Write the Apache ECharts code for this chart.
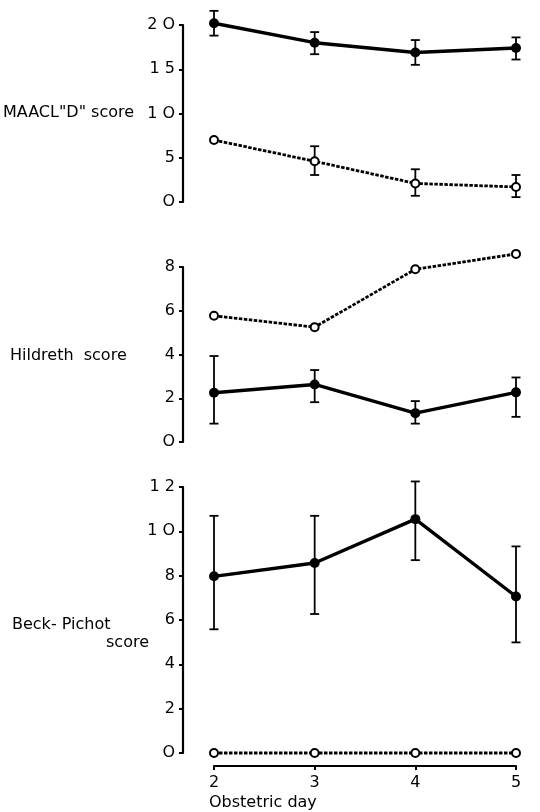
<!DOCTYPE html>
<html><head><meta charset="utf-8">
<script src="https://cdn.jsdelivr.net/npm/echarts@6/dist/echarts.min.js"></script>
<style>html,body{margin:0;padding:0;background:#fff}#c{width:540px;height:812px}</style>
</head><body><div id="c"></div>
<script>
var days = [2, 3, 4, 5];
// MAACL "D"
var maaclSolid = [20.2, 18.0, 16.9, 17.4];
var maaclSolidHi = [21.6, 19.2, 18.3, 18.6];
var maaclSolidLo = [18.8, 16.7, 15.5, 16.1];
var maaclOpen = [7.0, 4.6, 2.1, 1.7];
var maaclOpenHi = [null, 6.3, 3.7, 3.05];
var maaclOpenLo = [null, 3.05, 0.7, 0.55];
// Hildreth
var hildSolid = [2.25, 2.63, 1.32, 2.27];
var hildSolidHi = [3.93, 3.29, 1.87, 2.95];
var hildSolidLo = [0.84, 1.82, 0.84, 1.15];
var hildOpen = [5.77, 5.25, 7.9, 8.6];
// Beck-Pichot
var beckSolid = [7.97, 8.57, 10.55, 7.06];
var beckSolidHi = [10.7, 10.7, 12.25, 9.32];
var beckSolidLo = [5.58, 6.27, 8.7, 4.99];
var beckOpen = [0, 0, 0, 0];
var yTicks1 = [0, 5, 10, 15, 20];
var yTicks2 = [0, 2, 4, 6, 8];
var yTicks3 = [0, 2, 4, 6, 8, 10, 12];

var FONT = '"DejaVu Sans"';
var chart = echarts.init(document.getElementById('c'));
function pairs(v){ return days.map(function(d,i){ return [d, v[i]]; }); }
function errData(hi, lo){
  var out = [];
  days.forEach(function(d,i){ if (hi[i] != null) out.push([d, lo[i], hi[i]]); });
  return out;
}
function errSeries(idx, hi, lo){
  return {
    type: 'custom', xAxisIndex: idx, yAxisIndex: idx, clip: false, z: 3,
    data: errData(hi, lo),
    renderItem: function(params, api){
      var x = api.value(0);
      var p1 = api.coord([x, api.value(1)]);
      var p2 = api.coord([x, api.value(2)]);
      var w = 4.5;
      var st = {stroke: '#000', lineWidth: 1.8};
      return {type: 'group', children: [
        {type: 'line', shape: {x1: p1[0], y1: p1[1], x2: p2[0], y2: p2[1]}, style: st},
        {type: 'line', shape: {x1: p1[0]-w, y1: p1[1], x2: p1[0]+w, y2: p1[1]}, style: st},
        {type: 'line', shape: {x1: p2[0]-w, y1: p2[1], x2: p2[0]+w, y2: p2[1]}, style: st}
      ]};
    }
  };
}
function solidLine(idx, v){
  return {type: 'line', xAxisIndex: idx, yAxisIndex: idx, data: pairs(v), clip: false, z: 4,
    symbol: 'circle', symbolSize: 10, lineStyle: {color: '#000', width: 3.4},
    itemStyle: {color: '#000', borderColor: '#000', borderWidth: 0}, animation: false};
}
function openLine(idx, v){
  return {type: 'line', xAxisIndex: idx, yAxisIndex: idx, data: pairs(v), clip: false, z: 4,
    symbol: 'circle', symbolSize: 8, lineStyle: {color: '#000', width: 2.8, type: [3.5, 1.5]},
    itemStyle: {color: '#fff', borderColor: '#000', borderWidth: 2}, animation: false};
}
var grids = [
  {left: 214, right: 24, top: 25, height: 177},
  {left: 214, right: 24, top: 267, height: 175},
  {left: 214, right: 24, top: 487, height: 266}
];
function xAx(idx, show){
  return {type: 'value', gridIndex: idx, min: 2, max: 5, interval: 1, offset: 13,
    axisLine: {show: show, onZero: false, lineStyle: {color: '#000', width: 2.2}},
    axisTick: {show: show, length: 4, lineStyle: {color: '#000', width: 2}},
    axisLabel: {show: show, color: '#000', fontFamily: FONT, fontSize: 16, margin: 9},
    splitLine: {show: false}};
}
function yAx(idx, max, interval, ticks){
  return {type: 'value', gridIndex: idx, min: 0, max: max, interval: interval, offset: 31,
    axisLine: {show: true, onZero: false, lineStyle: {color: '#000', width: 2.2}},
    axisTick: {show: true, length: 4, lineStyle: {color: '#000', width: 2}},
    axisLabel: {color: '#000', fontFamily: FONT, fontSize: 16, margin: 8,
      formatter: function(v){
        if (ticks.indexOf(v) < 0) return '';
        return String(v).replace(/0/g, 'O').split('').join(' ');
      }},
    splitLine: {show: false}};
}
var txt = function(l, t, s){ return {type: 'text', left: l, top: t, style: {text: s, fill: '#000', font: '16px ' + FONT}}; };
chart.setOption({
  animation: false,
  grid: grids,
  xAxis: [xAx(0, false), xAx(1, false), xAx(2, true)],
  yAxis: [yAx(0, 20, 5, yTicks1), yAx(1, 8, 2, yTicks2), yAx(2, 12, 2, yTicks3)],
  series: [
    errSeries(0, maaclSolidHi, maaclSolidLo), solidLine(0, maaclSolid),
    errSeries(0, maaclOpenHi, maaclOpenLo), openLine(0, maaclOpen),
    errSeries(1, hildSolidHi, hildSolidLo), solidLine(1, hildSolid), openLine(1, hildOpen),
    errSeries(2, beckSolidHi, beckSolidLo), solidLine(2, beckSolid), openLine(2, beckOpen)
  ],
  graphic: [
    txt(3, 105, 'MAACL"D" score'),
    txt(10, 348, 'Hildreth  score'),
    txt(12, 617, 'Beck- Pichot'),
    txt(106, 635, 'score'),
    {type: 'text', left: 209, top: 795, style: {text: 'Obstetric day', fill: '#000', font: '16px ' + FONT}}
  ]
});
</script></body></html>
